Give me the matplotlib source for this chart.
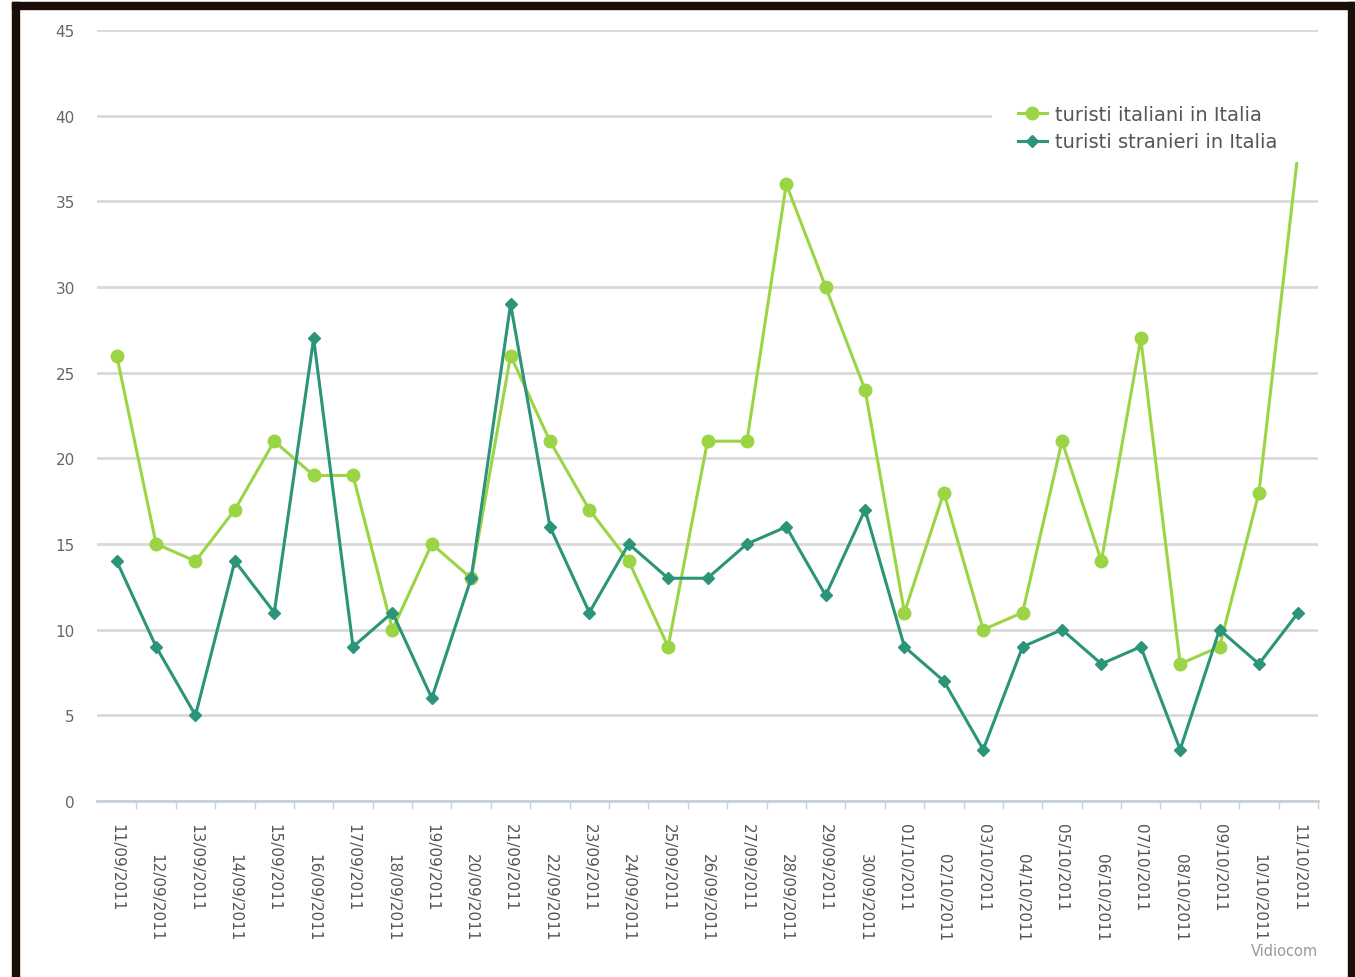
import numpy as np
import matplotlib.pyplot as plt
from matplotlib.patches import Rectangle

# Dati
date = ['11/09/2011', '12/09/2011', '13/09/2011', '14/09/2011', '15/09/2011',
        '16/09/2011', '17/09/2011', '18/09/2011', '19/09/2011', '20/09/2011',
        '21/09/2011', '22/09/2011', '23/09/2011', '24/09/2011', '25/09/2011',
        '26/09/2011', '27/09/2011', '28/09/2011', '29/09/2011', '30/09/2011',
        '01/10/2011', '02/10/2011', '03/10/2011', '04/10/2011', '05/10/2011',
        '06/10/2011', '07/10/2011', '08/10/2011', '09/10/2011', '10/10/2011',
        '11/10/2011']
italiani = [26, 15, 14, 17, 21, 19, 19, 10, 15, 13, 26, 21, 17, 14, 9,
            21, 21, 36, 30, 24, 11, 18, 10, 11, 21, 14, 27, 8, 9, 18, 38]
stranieri = [14, 9, 5, 14, 11, 27, 9, 11, 6, 13, 29, 16, 11, 15, 13,
             13, 15, 16, 12, 17, 9, 7, 3, 9, 10, 8, 9, 3, 10, 8, 11]

col_ita = '#9bd444'
col_str = '#2b9479'

fig = plt.figure(figsize=(13.55, 9.78), dpi=100)
ax = fig.add_axes([0.0716, 0.18, 0.9011, 0.7883])

x = np.arange(len(date))
ax.plot(x, italiani, color=col_ita, lw=2.2, marker='o', ms=9,
        label='turisti italiani in Italia', zorder=3)
ax.plot(x, stranieri, color=col_str, lw=2.2, marker='D', ms=6.5,
        label='turisti stranieri in Italia', zorder=4)

ax.set_xlim(-0.5, len(date) - 0.5)
ax.set_ylim(0, 45)
ax.set_yticks(range(0, 46, 5))
ax.grid(axis='y', color='#d9d9d9', lw=2)
ax.set_axisbelow(True)

for s in ['top', 'right', 'left']:
    ax.spines[s].set_visible(False)
ax.spines['bottom'].set_color('#c8d0dc')
ax.spines['bottom'].set_linewidth(2)

ax.tick_params(axis='y', length=0, labelsize=11, labelcolor='#666666', pad=16)
ax.set_xticks(x)
ax.set_xticklabels([])
ax.tick_params(axis='x', which='major', length=0)
ax.set_xticks(np.arange(-0.5, len(date), 1)[1:], minor=True)
ax.tick_params(axis='x', which='minor', length=6, color='#c8d0dc', width=1)

# etichette sfalsate
for i, d in enumerate(date):
    off = 0 if i % 2 == 0 else 30
    ax.annotate(d, (i, 0), xycoords='data', xytext=(0, -22 - off),
                textcoords='offset pixels', rotation=270, ha='center',
                va='top', fontsize=11, color='#555555')

# sfondo bianco della legenda (copre la parte alta delle linee)
ax.add_patch(Rectangle((0.732, 0.8335), 0.243, 0.069, transform=fig.transFigure,
                       facecolor='white', edgecolor='none', zorder=8,
                       clip_on=False))

leg = ax.legend(loc='center left', bbox_to_anchor=(0.741, 0.868),
                bbox_transform=fig.transFigure, fontsize=14, frameon=False,
                handlelength=1.5, handletextpad=0.4, labelspacing=0.44,
                borderpad=0.7, borderaxespad=0)
leg.set_zorder(10)
for t in leg.get_texts():
    t.set_color('#555555')

fig.text(0.923, 0.022, 'Vidiocom', fontsize=10.5, color='#999999')

# cornice nera
bordo = '#1a0f08'
fig.patches.append(Rectangle((0.0089, 0), 0.0052, 0.9969,
                             transform=fig.transFigure, color=bordo, zorder=20))
fig.patches.append(Rectangle((0.0089, 0.9898), 0.9911, 0.0071,
                             transform=fig.transFigure, color=bordo, zorder=20))
fig.patches.append(Rectangle((0.9948, 0), 0.0052, 0.9969,
                             transform=fig.transFigure, color=bordo, zorder=20))

fig.savefig('out.png', dpi=100)
